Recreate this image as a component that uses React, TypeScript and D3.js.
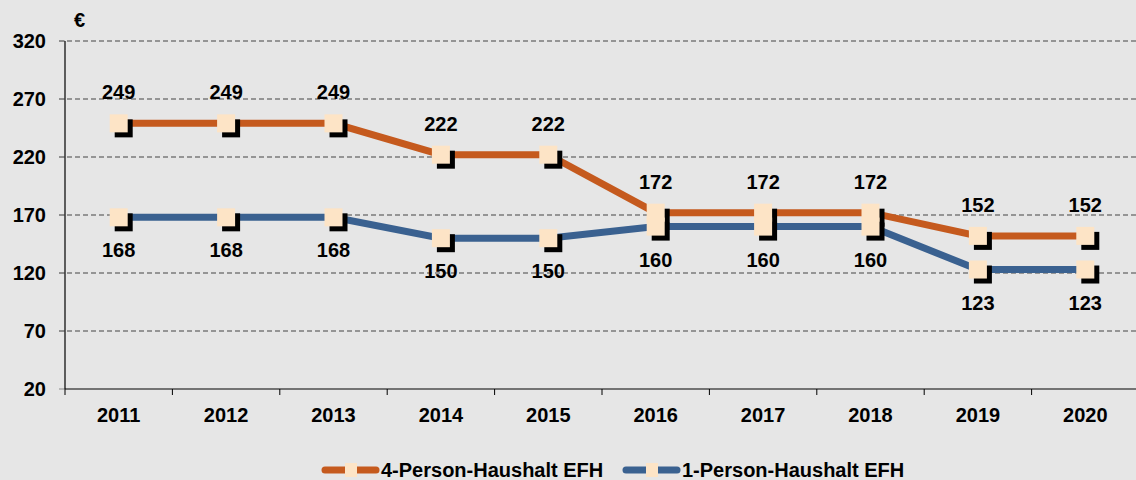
import React from "react";
import * as d3 from "d3";

const years = ["2011", "2012", "2013", "2014", "2015", "2016", "2017", "2018", "2019", "2020"];
const fourPerson = [249, 249, 249, 222, 222, 172, 172, 172, 152, 152];
const onePerson = [168, 168, 168, 150, 150, 160, 160, 160, 123, 123];
const yTicks = [20, 70, 120, 170, 220, 270, 320];
const seriesNames = ["4-Person-Haushalt EFH", "1-Person-Haushalt EFH"];

const W = 1136, H = 480;
const left = 65, right = 1139, top = 41, bottom = 389;
const ORANGE = "#c55a1e", BLUE = "#3a6190", CREAM = "#fde4c6", BG = "#e6e6e6";
const FONT = "'Liberation Sans', Arial, sans-serif";
const FS = 20;

export default function App() {
  const x = d3.scaleBand<string>().domain(years).range([left, right]);
  const y = d3.scaleLinear().domain([20, 320]).range([bottom, top]);
  const cx = (d: string) => (x(d) as number) + x.bandwidth() / 2;
  const line = d3.line<number>().x((_, i) => cx(years[i])).y((v) => y(v));
  const series = [
    { vals: fourPerson, color: ORANGE, above: true },
    { vals: onePerson, color: BLUE, above: false },
  ];
  const ms = 18;
  const marker = (px: number, py: number, key: string) => (
    <g key={key}>
      <rect x={px - ms / 2 + 5} y={py - ms / 2 + 5} width={ms} height={ms} fill="#000" />
      <rect x={px - ms / 2} y={py - ms / 2} width={ms} height={ms} fill={CREAM} />
    </g>
  );
  return (
    <svg width={W} height={H} style={{ position: "absolute", left: 0, top: 0, background: BG }} fontFamily={FONT}>
      <rect width={W} height={H} fill={BG} />
      {yTicks.map((t) => (
        <g key={t}>
          {t !== 20 && (
            <line x1={59} x2={W} y1={y(t)} y2={y(t)} stroke="#444" strokeWidth={1} strokeDasharray="5,3" />
          )}
          <line x1={59} x2={left} y1={y(t)} y2={y(t)} stroke="#888" strokeWidth={1} />
          <text x={46} y={y(t)} dy="0.35em" textAnchor="end" fontSize={FS} fontWeight="bold" fill="#000">{t}</text>
        </g>
      ))}
      <text x={74} y={27} fontSize={FS} fontWeight="bold">€</text>
      <line x1={left} x2={left} y1={top} y2={bottom} stroke="#000" strokeWidth={1.2} />
      <line x1={left} x2={W} y1={bottom} y2={bottom} stroke="#000" strokeWidth={1.2} />
      {years.map((yr) => (
        <g key={yr}>
          <line x1={x(yr) as number} x2={x(yr) as number} y1={bottom} y2={bottom + 6} stroke="#000" />
          <text x={cx(yr)} y={bottom + 26} dy="0.35em" textAnchor="middle" fontSize={FS} fontWeight="bold">{yr}</text>
        </g>
      ))}
      {series.map((s, si) => (
        <g key={"s" + si}>
          <path d={line(s.vals) as string} fill="none" stroke={s.color} strokeWidth={7} />
          {s.vals.map((v, i) => marker(cx(years[i]), y(v), `m${si}-${i}`))}
        </g>
      ))}
      {series.map((s, si) =>
        s.vals.map((v, i) => (
          <text key={`t${si}-${i}`} x={cx(years[i])} y={y(v) + (s.above ? -31 : 33)} dy="0.35em" textAnchor="middle" fontSize={FS} fontWeight="bold">{v}</text>
        ))
      )}
      {[{ x0: 322, color: ORANGE, name: seriesNames[0] }, { x0: 623, color: BLUE, name: seriesNames[1] }].map((l) => (
        <g key={l.name}>
          <line x1={l.x0 + 3} x2={l.x0 + 54} y1={470} y2={470} stroke={l.color} strokeWidth={7} strokeLinecap="round" />
          <rect x={l.x0 + 23} y={463} width={12} height={14} fill={CREAM} />
          <text x={l.x0 + 59} y={470} dy="0.35em" fontSize={FS} fontWeight="bold">{l.name}</text>
        </g>
      ))}
    </svg>
  );
}
